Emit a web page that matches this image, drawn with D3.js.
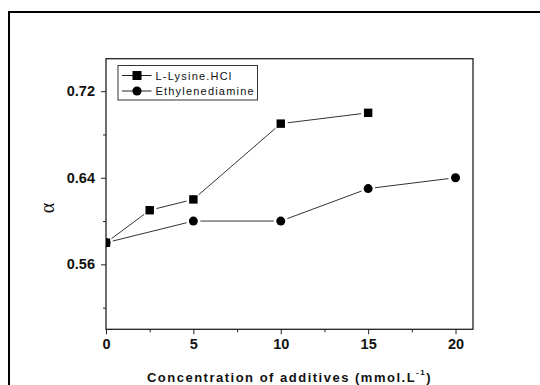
<!DOCTYPE html>
<html>
<head>
<meta charset="utf-8">
<script src="https://cdn.jsdelivr.net/npm/d3@7"></script>
<style>
  body { margin: 0; background: #fff; }
  svg { display: block; }
  .tick text { font-family: Arial, "Liberation Sans", sans-serif; font-weight: bold; font-size: 14.5px; fill: #111; }
  .domain { display: none; }
  .tick line { stroke: #222; stroke-width: 1; }
</style>
</head>
<body>
<script>
// data
let lysineX = [0, 2.5, 5, 10, 15]
let lysineY = [0.58, 0.61, 0.62, 0.69, 0.70]
let ethX = [0, 5, 10, 15, 20]
let ethY = [0.58, 0.60, 0.60, 0.63, 0.64]
let seriesNames = ["L-Lysine.HCl", "Ethylenediamine"]
let xMajor = [0, 5, 10, 15, 20]
let xMinor = [2.5, 7.5, 12.5, 17.5]
let yMajor = [0.56, 0.64, 0.72]
let yMinor = [0.52, 0.60, 0.68]

let width = 540
let height = 385
let plotL = 106, plotR = 473, plotT = 58.7, plotB = 329.3

let x = d3.scaleLinear().domain([0, 21]).range([plotL, plotR])
let y = d3.scaleLinear().domain([0.50, 0.75]).range([plotB, plotT])

let svg = d3.select("body").append("svg")
    .attr("width", width)
    .attr("height", height)

// outer border (only top and left visible)
svg.append("rect")
    .attr("x", 9).attr("y", 12)
    .attr("width", 700).attr("height", 700)
    .attr("fill", "none")
    .attr("stroke", "#000")
    .attr("stroke-width", 2)

svg.append("clipPath").attr("id", "plot")
    .append("rect")
    .attr("x", plotL).attr("y", plotT)
    .attr("width", plotR - plotL).attr("height", plotB - plotT)

// axes
svg.append("g")
    .attr("transform", `translate(0,${plotB})`)
    .call(d3.axisBottom(x).tickValues(xMajor).tickSize(5).tickPadding(4).tickFormat(d3.format("d")))
svg.append("g")
    .attr("transform", `translate(0,${plotB})`)
    .call(d3.axisBottom(x).tickValues(xMinor).tickSize(3).tickFormat(""))
svg.append("g")
    .attr("transform", `translate(${plotL},0)`)
    .call(d3.axisLeft(y).tickValues(yMajor).tickSize(5).tickPadding(6).tickFormat(d3.format(".2f")))
svg.append("g")
    .attr("transform", `translate(${plotL},0)`)
    .call(d3.axisLeft(y).tickValues(yMinor).tickSize(3).tickFormat(""))

// frame
svg.append("rect")
    .attr("x", plotL).attr("y", plotT)
    .attr("width", plotR - plotL).attr("height", plotB - plotT)
    .attr("fill", "none")
    .attr("stroke", "#222")
    .attr("stroke-width", 1.3)

// connecting lines with small gaps at the markers
function drawSegments(xs, ys, gap) {
    let pts = xs.map((d, i) => [x(d), y(ys[i])])
    for (let i = 0; i < pts.length - 1; i++) {
        let [x1, y1] = pts[i], [x2, y2] = pts[i + 1]
        let len = Math.hypot(x2 - x1, y2 - y1)
        let ux = (x2 - x1) / len, uy = (y2 - y1) / len
        svg.append("line")
            .attr("x1", x1 + ux * gap).attr("y1", y1 + uy * gap)
            .attr("x2", x2 - ux * gap).attr("y2", y2 - uy * gap)
            .attr("stroke", "#333")
            .attr("stroke-width", 1)
    }
}
drawSegments(lysineX, lysineY, 7)
drawSegments(ethX, ethY, 7)

let marks = svg.append("g").attr("clip-path", "url(#plot)")
marks.selectAll("rect.sq")
    .data(lysineX.map((d, i) => [d, lysineY[i]]))
    .enter().append("rect")
    .attr("class", "sq")
    .attr("x", d => x(d[0]) - 4.2)
    .attr("y", d => y(d[1]) - 4.2)
    .attr("width", 8.4).attr("height", 8.4)
    .attr("fill", "#000")
marks.selectAll("circle")
    .data(ethX.map((d, i) => [d, ethY[i]]))
    .enter().append("circle")
    .attr("cx", d => x(d[0]))
    .attr("cy", d => y(d[1]))
    .attr("r", 4.5)
    .attr("fill", "#000")

// legend
let lg = svg.append("g")
lg.append("rect")
    .attr("x", 118).attr("y", 65.5)
    .attr("width", 139.5).attr("height", 34.5)
    .attr("fill", "#fff")
    .attr("stroke", "#333")
    .attr("stroke-width", 1)
seriesNames.forEach((name, i) => {
    let cy = 75.5 + i * 15.5
    lg.append("line")
        .attr("x1", 122).attr("x2", 151.5)
        .attr("y1", cy).attr("y2", cy)
        .attr("stroke", "#222").attr("stroke-width", 1)
    if (i == 0) {
        lg.append("rect").attr("x", 132.5).attr("y", cy - 4.5)
            .attr("width", 9).attr("height", 9).attr("fill", "#000")
    } else {
        lg.append("circle").attr("cx", 137).attr("cy", cy).attr("r", 4.6).attr("fill", "#000")
    }
    lg.append("text")
        .attr("x", 155.5).attr("y", cy + 4)
        .attr("font-family", "Arial, 'Liberation Sans', sans-serif")
        .attr("font-size", 11)
        .attr("letter-spacing", 1.2)
        .attr("fill", "#111")
        .text(name)
})

// axis titles
let xt = svg.append("text")
    .attr("x", (plotL + plotR) / 2).attr("y", 381.5)
    .attr("text-anchor", "middle")
    .attr("font-family", "Arial, 'Liberation Sans', sans-serif")
    .attr("font-weight", "bold")
    .attr("font-size", 13)
    .attr("letter-spacing", 1.5)
    .attr("fill", "#111")
xt.append("tspan").text("Concentration of additives (mmol.L")
xt.append("tspan").attr("font-size", 8).attr("dy", -7).text("-1")
xt.append("tspan").attr("dy", 7).text(")")

svg.append("text")
    .attr("transform", "translate(54,208) rotate(-90)")
    .attr("text-anchor", "middle")
    .attr("font-family", "'Liberation Serif', 'DejaVu Serif', serif")
    .attr("font-size", 20)
    .attr("fill", "#111")
    .text("α")
</script>
</body>
</html>
